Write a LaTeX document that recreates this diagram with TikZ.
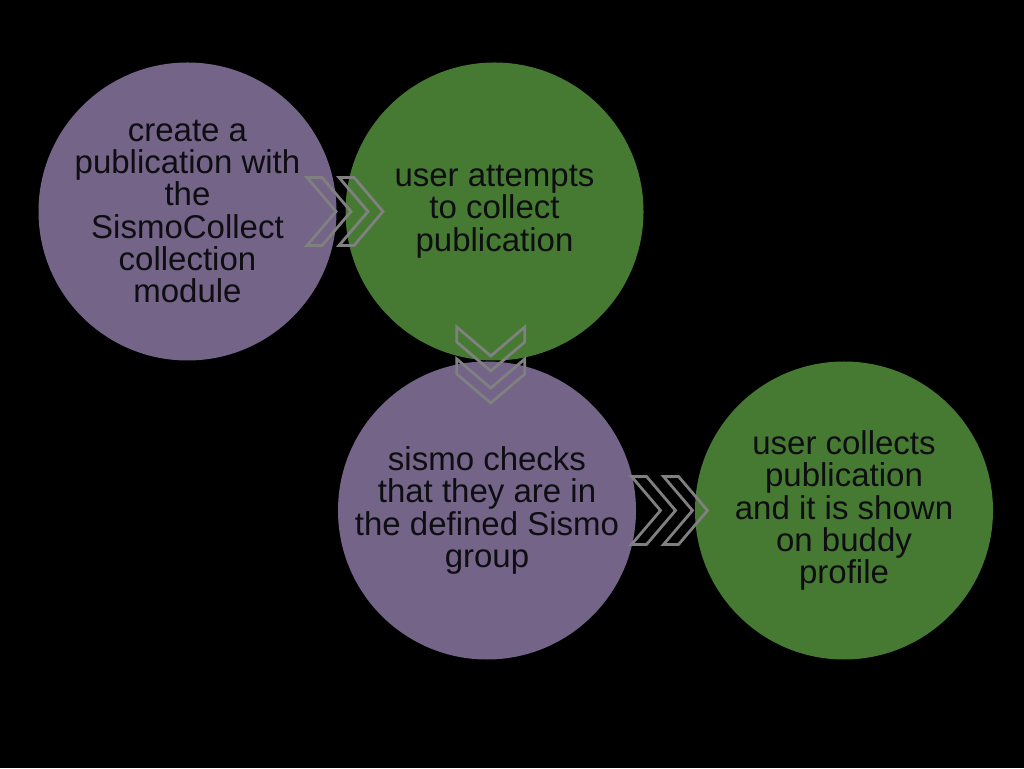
\documentclass[tikz,border=0pt]{standalone}
\usepackage{fontspec}
\setmainfont{Liberation Sans}
\usetikzlibrary{calc}
\definecolor{stepviolet}{RGB}{115,100,136}
\definecolor{stepgreen}{RGB}{70,122,50}
\definecolor{chevgray}{RGB}{128,128,128}
\definecolor{inkdark}{RGB}{14,14,18}
\tikzset{
  x=1pt, y=1pt,
  every node/.style  = {font=\fontsize{33}{32.3}\selectfont, text=inkdark},
  stepcircle/.style  = {circle, minimum size=298pt, inner sep=0pt, align=center},
  violetstep/.style  = {stepcircle, fill=stepviolet},
  greenstep/.style   = {stepcircle, fill=stepgreen},
  chevron/.style     = {draw=chevgray, line width=2.8pt, line join=miter}
}

\begin{document}
\begin{tikzpicture}
  \fill[black] (0,0) rectangle (1024,768);
  \useasboundingbox (0,0) rectangle (1024,768);
  % the four steps
  \node[violetstep] (create)  at (187.5,556.5) {create a\\publication with\\the\\SismoCollect\\collection\\module};
  \node[greenstep]  (attempt) at (494.5,556.5) {user attempts\\to collect\\publication};
  \node[violetstep] (check)   at (487,257.5)   {sismo checks\\that they are in\\the defined Sismo\\group};
  \node[greenstep]  (collect) at (844,257.5)   {user collects\\publication\\and it is shown\\on buddy\\profile};
  % double chevrons between the steps
  \foreach \a/\b/\ang in {create/attempt/0, attempt/check/-90, check/collect/0} {
    \begin{scope}[shift={($(\a)!0.5!(\b)$)}, rotate=\ang]
      \foreach \dx in {-34,-2}
        \draw[chevron] (\dx,-34) -- ++(15,0) -- ++(29,34) -- ++(-29,34)
          -- ++(-15,0) -- ++(29,-34) -- cycle;
    \end{scope}
  }
\end{tikzpicture}
\end{document}
